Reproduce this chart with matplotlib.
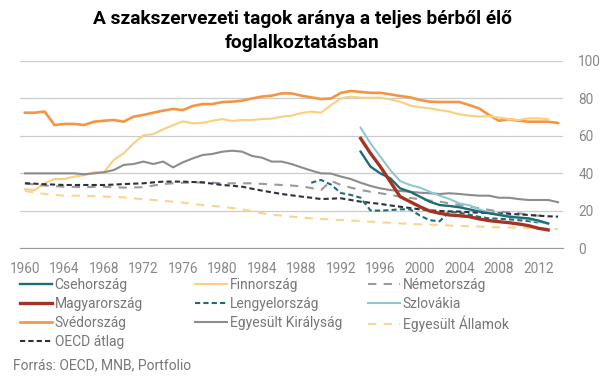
import numpy as np
import matplotlib.pyplot as plt

plt.rcParams['font.family'] = ['Roboto', 'DejaVu Sans']

# adatok
sved_start = 1960
sved = [72.4, 72.4, 73, 65.8, 66.4, 66.4, 65.8, 67.6, 68.1, 68.5, 67.6,
        70.3, 71.2, 72.4, 73.5, 74.4, 73.8, 76, 77, 77, 78.1,
        78.3, 78.8, 80, 81, 81.5, 82.7, 82.7, 81.5, 80.6, 79.7,
        80, 83, 84, 83.5, 83, 83, 82.2, 81.3, 80.6, 79.2,
        78.3, 78.1, 78.1, 78.1, 76.5, 74.7, 71.2, 68.1, 68.9, 68.1,
        67.6, 67.6, 67.6, 66.9]

finn_start = 1960
finn = [31.5, 31.1, 34.7, 37, 37, 38.3, 39, 40.6, 40.6, 47.2, 50.7,
        56, 60.3, 61, 63.5, 65.7, 67.8, 66.7, 67, 68.1, 69,
        68, 68.5, 68.5, 69, 69.2, 70.3, 70.8, 72.2, 73, 72.4,
        76.5, 80, 81, 80.4, 80.4, 80.4, 79.5, 78.3, 76.2, 75.3,
        74.7, 73.8, 73, 71.5, 70.8, 70.3, 70.6, 69.8, 69, 68.5,
        69.4, 69.4, 68.9]

uk_start = 1960
uk = [40, 40, 40, 40, 40, 40, 39.5, 40, 40.6, 41.8, 44.5,
      45, 46.3, 45, 46.3, 43.2, 45.9, 48, 49.8, 50.4, 51.6,
      52.1, 51.6, 49.3, 48.4, 46.3, 46.3, 45, 43.2, 41.5, 40,
      39.9, 38.3, 37, 35, 33.3, 32, 31.1, 30.6, 30.2, 29.7,
      29.4, 29, 29.4, 29, 28.5, 28.1, 28.1, 27, 27, 26.3,
      25.8, 25.8, 25.8, 24.6]

nemet_start = 1960
nemet = [34.7, 34, 33.5, 33.2, 32.9, 32.8, 32.6, 32.8, 32.9, 32.6, 32.4,
         32.5, 32.6, 33.5, 34.3, 34.7, 35, 35.1, 35.2, 35, 34.7,
         34.7, 34.7, 34.7, 34.4, 34.1, 33.8, 33.5, 33.1, 32.2, 31.1,
         36, 33.8, 32.4, 31.1, 30.2, 29.4, 28.5, 27.6, 26.9, 26.2,
         25.5, 24.9, 24, 23.1, 22.2, 21.4, 20.5, 19.6, 19.2, 18.7,
         18, 17.4, 18.3]

oecd_start = 1960
oecd = [34.7, 34.5, 34.2, 34, 33.8, 33.8, 33.8, 33.8, 33.8, 34, 34.3,
        34.5, 34.7, 35.2, 35.6, 35.6, 35.6, 35.4, 35.2, 34.5, 33.8,
        33.4, 32.9, 31.8, 30.8, 29.9, 29, 28.3, 27.6, 27, 26.3,
        26.5, 26.7, 25.8, 24.9, 24.3, 23.7, 22.9, 22.2, 21.5, 20.8,
        20.3, 19.9, 19.7, 19.6, 19.3, 19, 18.8, 18.7, 18.4, 18.1,
        17.8, 17.4, 17.1, 16.9]

usa_start = 1960
usa = [30.6, 29.8, 29, 28.5, 28.1, 28.1, 28.1, 27.8, 27.6, 27.4, 27.2,
       26.7, 26.2, 25.8, 25.4, 24.9, 24.4, 23.7, 23.1, 22.6, 22.2,
       21.5, 20.8, 19.8, 18.7, 18, 17.4, 16.9, 16.4, 16, 15.7,
       15.4, 15.1, 14.8, 14.6, 14.2, 13.9, 13.6, 13.3, 13, 12.8,
       12.6, 12.5, 12.2, 11.9, 11.8, 11.6, 11.4, 11.2, 11.1, 11,
       10.8, 10.7, 10.5, 10.3]

cseh_start = 1994
cseh = [51.6, 43.6, 40, 37.4, 32, 30.2, 27.6, 24.9, 23.1, 22.6,
        21.9, 20.8, 19.6, 18.7, 17.8, 16.9, 16.4, 16, 14.8, 13.3]

magyar_start = 1994
magyar = [58.7, 50.7, 43.6, 35.6, 27.6, 24.9, 22.2, 19.9, 18.7, 17.8,
          17.4, 16.9, 15.7, 14.8, 14.2, 13.7, 13, 12.1, 10.7, 9.8]

szlovak_start = 1994
szlovak = [64.4, 56, 48.9, 41.8, 35.9, 33.8, 32.4, 30.2, 28.1, 26.3,
           24, 23, 20.8, 19, 18.1, 17.3, 16.4, 15.5, 14.2, 13]

lengyel_start = 1989
lengyel = [35, 36.5, 34, 29.5, 28.5, 27, 20.2, 20.1, 20.4, 20.8,
           20.8, 17.5, 15, 14.4, 19.6, 19, 18, 16.8, 16, 15.8,
           15.5, 15, 14.5, 13.8]

def years(start, vals):
    return np.arange(start, start + len(vals))

fig = plt.figure(figsize=(6.05, 3.78), dpi=100)
ax = fig.add_axes([20/605, 1-248.3/378, 543/605, (248.3-61)/378])

teal = '#1e6c78'
h = {}
h['Svédország'], = ax.plot(years(sved_start, sved), sved, color='#f59442', lw=1.9)
h['Finnország'], = ax.plot(years(finn_start, finn), finn, color='#f8d080', lw=1.5)
h['Egyesült Királyság'], = ax.plot(years(uk_start, uk), uk, color='#8c8c8c', lw=1.5)
h['Németország'], = ax.plot(years(nemet_start, nemet), nemet, color='#9a9a9a', lw=1.5, dashes=(4, 3.5))
h['OECD átlag'], = ax.plot(years(oecd_start, oecd), oecd, color='#2d313c', lw=1.5, dashes=(2.5, 1.5))
h['Egyesült Államok'], = ax.plot(years(usa_start, usa), usa, color='#f8d690', lw=1.5, dashes=(4, 3.5))
h['Lengyelország'], = ax.plot(years(lengyel_start, lengyel), lengyel, color=teal, lw=1.5, dashes=(2.5, 1.5))
h['Szlovákia'], = ax.plot(years(szlovak_start, szlovak), szlovak, color='#8ec9d2', lw=1.5)
h['Csehország'], = ax.plot(years(cseh_start, cseh), cseh, color=teal, lw=1.7)
h['Magyarország'], = ax.plot(years(magyar_start, magyar), magyar, color='#a63221', lw=2.4)

ax.set_xlim(1959.5, 2014.5)
ax.set_ylim(0, 100)
ax.set_xticks(np.arange(1960, 2013, 4))
ax.set_yticks(np.arange(0, 101, 20))
ax.yaxis.tick_right()
ax.tick_params(axis='both', length=0, labelsize=9.8, labelcolor='#888888')
ax.tick_params(axis='y', pad=11)
ax.tick_params(axis='x', pad=10)
ax.grid(axis='y', color='#cccccc', lw=0.9)
for s in ['top', 'left', 'right']:
    ax.spines[s].set_visible(False)
ax.spines['bottom'].set_color('#999999')
ax.set_axisbelow(True)

fig.text(0.5, 1-10/378, 'A szakszervezeti tagok aránya a teljes bérből élő\nfoglalkoztatásban',
         ha='center', va='top', fontsize=13.8, fontweight='bold', linespacing=1.45)

cols = [['Csehország', 'Magyarország', 'Svédország', 'OECD átlag'],
        ['Finnország', 'Lengyelország', 'Egyesült Királyság'],
        ['Németország', 'Szlovákia', 'Egyesült Államok']]
col_x = [20, 195, 368]
for names, x in zip(cols, col_x):
    leg = fig.legend([h[n] for n in names], names, loc='upper left',
                     bbox_to_anchor=(x/605, 1-278/378), frameon=False,
                     fontsize=10, borderpad=0, borderaxespad=0,
                     handlelength=2.3, handletextpad=0.2, labelspacing=0.35)
    for t in leg.get_texts():
        t.set_color('#777777')

fig.text(13/605, 1-365/378, 'Forrás: OECD, MNB, Portfolio', ha='left', va='center',
         fontsize=10, color='#777777')

fig.savefig('out.png', dpi=100)
